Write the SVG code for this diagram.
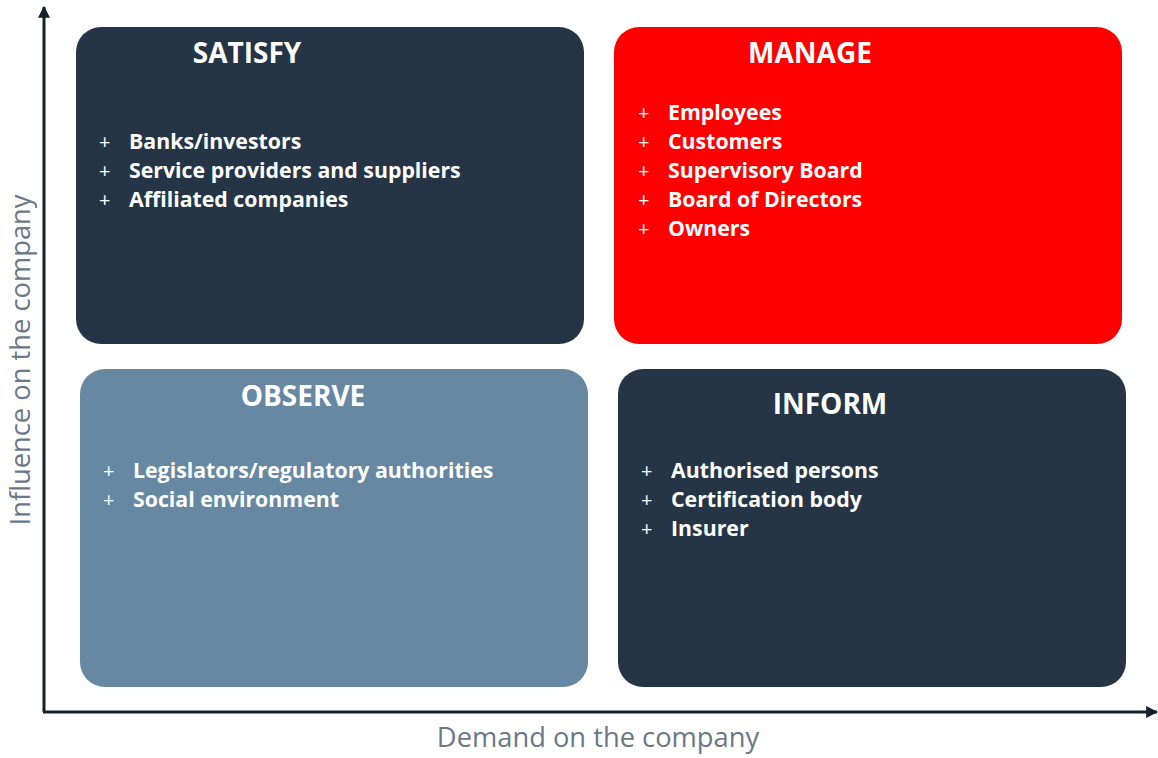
<svg xmlns="http://www.w3.org/2000/svg" width="1158" height="758" viewBox="0 0 1158 758">
<style>
.box-dark{fill:#253545}
.box-red{fill:#ff0000}
.box-blue{fill:#6688a3}
.title{font-family:"Open Sans",Lato,sans-serif;font-weight:700;font-size:28px;fill:#ffffff;text-anchor:middle}
.item{font-family:"Open Sans",Lato,sans-serif;font-weight:700;font-size:21.3px;fill:#ffffff}
.plus{font-family:"Open Sans",Lato,sans-serif;font-weight:400;font-size:20px;fill:#ffffff}
.axislabel{font-family:"Open Sans",Lato,sans-serif;font-size:27.3px;fill:#6a7888}
.axis{stroke:#15212b;stroke-width:3;fill:none}
</style>
<defs>
<marker id="arrow" viewBox="0 0 10 10" refX="9" refY="5" markerWidth="4" markerHeight="4" orient="auto" markerUnits="strokeWidth">
<path d="M0,0 L10,5 L0,10 z" fill="#15212b"/>
</marker>
</defs>
<g id="connectors">
<line class="axis" x1="44" y1="712" x2="44" y2="7" marker-end="url(#arrow)"/>
<line class="axis" x1="43" y1="712" x2="1157" y2="712" marker-end="url(#arrow)"/>
</g>
<g id="axis-labels">
<text class="axislabel" x="598" y="747" text-anchor="middle">Demand on the company</text>
<text class="axislabel" x="0" y="0" text-anchor="middle" transform="translate(30,360) rotate(-90)">Influence on the company</text>
</g>
<g id="satisfy">
<rect class="box-dark" x="76" y="27" width="508" height="317" rx="25"/>
<text class="title" x="247" y="63">SATISFY</text>
<text class="plus" x="99" y="149">+</text><text class="item" x="129" y="149">Banks/investors</text>
<text class="plus" x="99" y="178">+</text><text class="item" x="129" y="178">Service providers and suppliers</text>
<text class="plus" x="99" y="207">+</text><text class="item" x="129" y="207">Affiliated companies</text>
</g>
<g id="manage">
<rect class="box-red" x="614" y="27" width="508" height="317" rx="25"/>
<text class="title" x="810" y="63">MANAGE</text>
<text class="plus" x="638" y="120">+</text><text class="item" x="668" y="120">Employees</text>
<text class="plus" x="638" y="149">+</text><text class="item" x="668" y="149">Customers</text>
<text class="plus" x="638" y="178">+</text><text class="item" x="668" y="178">Supervisory Board</text>
<text class="plus" x="638" y="207">+</text><text class="item" x="668" y="207">Board of Directors</text>
<text class="plus" x="638" y="236">+</text><text class="item" x="668" y="236">Owners</text>
</g>
<g id="observe">
<rect class="box-blue" x="80" y="369" width="508" height="318" rx="25"/>
<text class="title" x="303" y="406">OBSERVE</text>
<text class="plus" x="103" y="478">+</text><text class="item" x="133" y="478">Legislators/regulatory authorities</text>
<text class="plus" x="103" y="507">+</text><text class="item" x="133" y="507">Social environment</text>
</g>
<g id="inform">
<rect class="box-dark" x="618" y="369" width="508" height="318" rx="25"/>
<text class="title" x="830" y="414">INFORM</text>
<text class="plus" x="641" y="478">+</text><text class="item" x="671" y="478">Authorised persons</text>
<text class="plus" x="641" y="507">+</text><text class="item" x="671" y="507">Certification body</text>
<text class="plus" x="641" y="536">+</text><text class="item" x="671" y="536">Insurer</text>
</g>
</svg>
